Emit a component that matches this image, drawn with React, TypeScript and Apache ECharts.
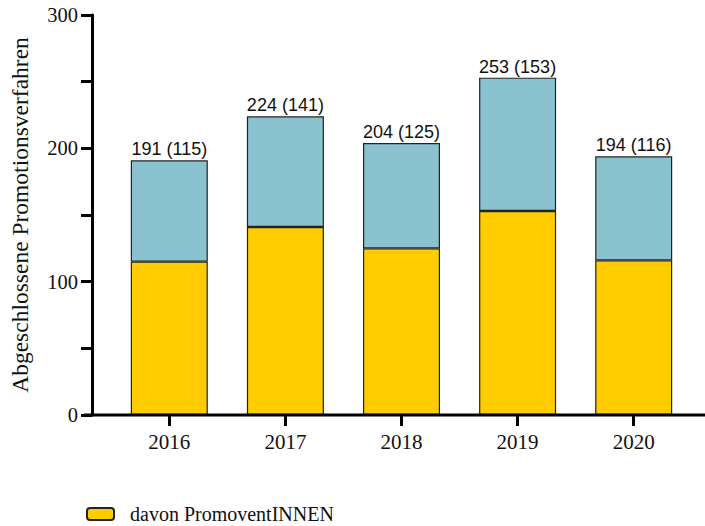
import React, { useEffect, useRef } from "react";
import * as echarts from "echarts";

const years = ["2016", "2017", "2018", "2019", "2020"];
const totals = [191, 224, 204, 253, 194];
const davon = [115, 141, 125, 153, 116];
const yTicks = [0, 100, 200, 300];

export default function App() {
  const ref = useRef<HTMLDivElement>(null);
  useEffect(() => {
    if (!ref.current) return;
    const chart = echarts.init(ref.current, null, { renderer: "svg" });
    const rest = totals.map((t, i) => t - davon[i]);
    const serif = "Liberation Serif";
    chart.setOption({
      animation: false,
      backgroundColor: "#ffffff",
      grid: { left: 104.25, right: 13.25, top: 15, bottom: 111 },
      legend: {
        data: ["davon PromoventINNEN"],
        left: 81,
        top: 499,
        itemWidth: 27,
        itemHeight: 12,
        itemGap: 10,
        textStyle: { fontFamily: serif, fontSize: 20, color: "#111", padding: [0, 0, 0, 11] },
      },
      xAxis: {
        type: "category",
        data: years,
        axisLine: { show: false },
        axisTick: { show: true, alignWithLabel: true, length: 11, lineStyle: { color: "#000", width: 3 } },
        axisLabel: { fontFamily: serif, fontSize: 21, color: "#111", margin: 16 },
      },
      yAxis: {
        type: "value",
        min: 0,
        max: 300,
        interval: 50,
        offset: 19.25,
        name: "Abgeschlossene Promotionsverfahren",
        nameLocation: "middle",
        nameGap: 60,
        nameTextStyle: { fontFamily: serif, fontSize: 23.5, color: "#111" },
        axisLine: { show: true, lineStyle: { color: "#000", width: 3 } },
        axisTick: { show: true, length: 11, lineStyle: { color: "#000", width: 3 } },
        splitLine: { show: false },
        axisLabel: {
          fontFamily: serif,
          fontSize: 20.5,
          color: "#111",
          margin: 14,
          formatter: (v: number) => (yTicks.includes(v) ? String(v) : ""),
        },
      },
      graphic: [
        {
          type: "line",
          shape: { x1: 84, y1: 415, x2: 705, y2: 415 },
          style: { stroke: "#000", lineWidth: 3 },
          z: 10,
        },
      ],
      series: [
        {
          name: "davon PromoventINNEN",
          type: "bar",
          stack: "a",
          barWidth: 77,
          data: davon,
          itemStyle: { color: "#FFCC00", borderColor: "#222", borderWidth: 1.2 },
        },
        {
          name: "Abgeschlossene Promotionsverfahren",
          type: "bar",
          stack: "a",
          barWidth: 77,
          data: rest,
          itemStyle: { color: "#8AC2D0", borderColor: "#222", borderWidth: 1.2 },
          label: {
            show: true,
            position: "top",
            distance: 2,
            fontFamily: "Liberation Sans",
            fontSize: 18,
            color: "#111",
            formatter: (p: any) => `${totals[p.dataIndex]} (${davon[p.dataIndex]})`,
          },
        },
      ],
    });
    return () => chart.dispose();
  }, []);
  return (
    <div
      ref={ref}
      style={{ position: "fixed", left: 0, top: 0, width: 705, height: 526, background: "#fff" }}
    />
  );
}
